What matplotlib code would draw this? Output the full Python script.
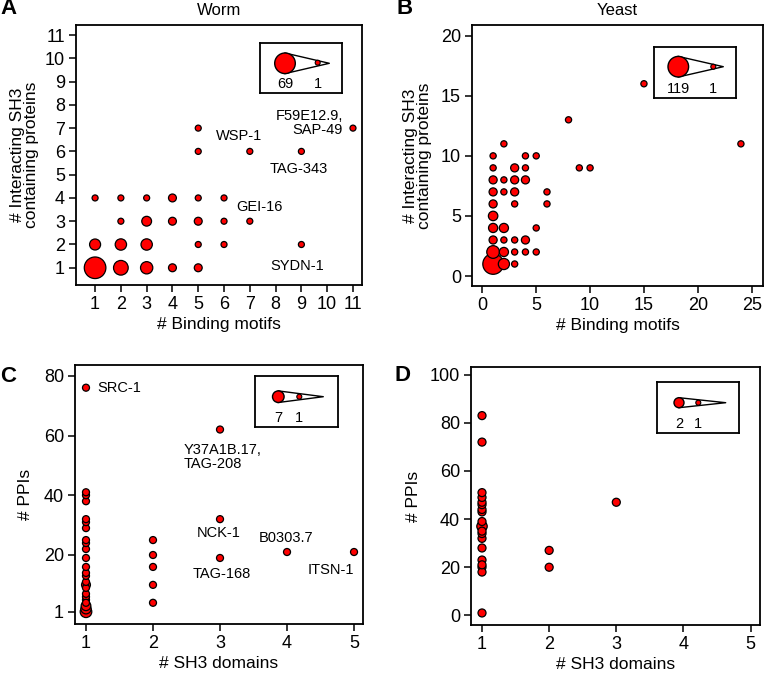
import numpy as np
import matplotlib
matplotlib.use("Agg")
import matplotlib.pyplot as plt
from matplotlib.patches import Circle

plt.rcParams['font.family'] = ['Liberation Sans', 'DejaVu Sans']

# ---- data -----------------------------------------------------------------
# A: worm, binding motifs vs interacting SH3 proteins (count = bubble size)
worm_motifs = [1, 2, 3, 4, 5,  1, 2, 3, 5, 6, 9,  2, 3, 4, 5, 6, 7,
               1, 2, 3, 4, 5, 6,  5, 7, 9,  5, 11]
worm_sh3 = [1, 1, 1, 1, 1,  2, 2, 2, 2, 2, 2,  3, 3, 3, 3, 3, 3,
            4, 4, 4, 4, 4, 4,  6, 6, 6,  7, 7]
worm_count = [69, 22, 12, 2, 2,  8, 9, 9, 1, 1, 1,  1, 5, 2, 2, 1, 1,
              1, 1, 1, 2, 1, 1,  1, 1, 1,  1, 1]

# B: yeast
yeast_motifs = [1, 2, 3,  1, 2, 3, 4, 5,  1, 2, 3, 4,  1, 2, 5,  1,
                1, 3, 6,  1, 2, 3, 6,  1, 2, 3, 4,  1, 3, 4,  1, 4, 5,
                2, 9, 10, 8, 15, 24]
yeast_sh3 = [1, 1, 1,  2, 2, 2, 2, 2,  3, 3, 3, 3,  4, 4, 4,  5,
             6, 6, 6,  7, 7, 7, 7,  8, 8, 8, 8,  9, 9, 9,  10, 10, 10,
             11, 9, 9, 13, 16, 11]
yeast_count = [119, 15, 1,  25, 6, 1, 1, 1,  3, 1, 1, 3,  6, 6, 1,  7,
               3, 1, 1,  3, 1, 3, 1,  3, 1, 3, 3,  1, 3, 1,  1, 1, 1,
               1, 1, 1, 1, 1, 1]

# C: worm, SH3 domains vs PPIs
worm_domains = [1] * 24 + [2, 2, 2, 2, 2, 3, 3, 3, 4, 5]
worm_ppis = [1, 2, 3, 4, 5, 6, 7, 9, 10, 11, 13, 14, 16, 19, 22, 24, 25,
             29, 31, 32, 38, 40, 41, 76,
             4, 10, 16, 20, 25, 19, 32, 62, 21, 21]
worm_ppi_count = [7, 4, 3, 1, 1, 1, 1, 1, 2, 1, 1, 1, 1, 1, 1, 1, 1,
                  1, 1, 1, 1, 1, 1, 1,
                  1, 1, 1, 1, 1, 1, 1, 1, 1, 1]

# D: yeast, SH3 domains vs PPIs
yeast_domains = [1] * 19 + [2, 2, 3]
yeast_ppis = [1, 18, 20, 21, 23, 28, 32, 34, 35, 37, 43, 44, 46, 47, 49, 51,
              72, 83, 39,
              20, 27, 47]
yeast_ppi_count = [1, 1, 1, 1, 1, 1, 1, 1, 1, 2, 1, 1, 1, 1, 1, 1,
                   1, 1, 1,
                   1, 1, 1]

W, H = 767, 676
TICK = 13
LAB = 12.5
NOTE = 10.5
fig = plt.figure(figsize=(W / 100, H / 100), dpi=100)


def box(x0, y0, x1, y1):
    # pixel box -> figure fraction rect
    return [x0 / W, 1 - y1 / H, (x1 - x0) / W, (y1 - y0) / H]


def radius(c, rmin, rmax, cmax):
    c = np.asarray(c, dtype=float)
    return rmin + (rmax - rmin) * np.sqrt((c - 1) / (cmax - 1))


def bubbles(ax, x, y, c, rmin, rmax, cmax):
    r = radius(c, rmin, rmax, cmax)
    s = (2 * r * 0.72) ** 2
    order = np.argsort(-r)
    ax.scatter(np.asarray(x)[order], np.asarray(y)[order], s=s[order],
               c='#ff0000', edgecolors='black', linewidths=0.9, zorder=3,
               clip_on=False)


def style(ax):
    for sp in ax.spines.values():
        sp.set_linewidth(1.3)
    ax.tick_params(direction='out', length=5, width=1.1, labelsize=TICK, pad=3)


def size_key(x0, y0, x1, y1, big, small, tip, labels):
    # hand drawn size legend: big circle, cone, small circle
    k = fig.add_axes(box(x0, y0, x1, y1))
    k.set_xlim(x0, x1)
    k.set_ylim(y1, y0)
    k.set_xticks([])
    k.set_yticks([])
    for sp in k.spines.values():
        sp.set_linewidth(1.3)
    (bx, by, br), (sx, sy, sr) = big, small
    k.plot([bx, tip, bx], [by - br, by, by + br], color='black', lw=1.0)
    k.add_patch(Circle((bx, by), br, fc='#ff0000', ec='black', lw=1.0, zorder=3))
    k.add_patch(Circle((sx, sy), sr, fc='#ff0000', ec='black', lw=0.8, zorder=3))
    k.text(bx, y1 - 5, labels[0], ha='center', va='baseline', fontsize=10.5)
    k.text(sx, y1 - 5, labels[1], ha='center', va='baseline', fontsize=10.5)


# ---- A ------------------------------------------------------------------
axA = fig.add_axes(box(76, 25, 362, 285))
bubbles(axA, worm_motifs, worm_sh3, worm_count, 3.0, 10.8, 69)
axA.set_xlim(0.26, 11.35)
axA.set_ylim(0.26, 11.43)
axA.set_xticks(range(1, 12))
axA.set_yticks(range(1, 12))
style(axA)
axA.set_xlabel('# Binding motifs', fontsize=LAB, labelpad=3)
axA.set_ylabel('# Interacting SH3\ncontaining proteins', fontsize=LAB,
               labelpad=4, linespacing=0.95)
axA.set_title('Worm', fontsize=12, pad=7)
for txt, x, y, ha in [('WSP-1', 6.6, 6.65, 'center'),
                      ('TAG-343', 8.9, 5.23, 'center'),
                      ('F59E12.9,\nSAP-49', 10.6, 7.2, 'right'),
                      ('GEI-16', 7.36, 3.62, 'center'),
                      ('SYDN-1', 8.85, 1.09, 'center')]:
    axA.text(x, y, txt, ha=ha, va='center', fontsize=NOTE, linespacing=1.0)
size_key(260, 42.7, 341.7, 92.7, (285, 63.3, 10.3), (317.7, 62.7, 2.5), 329.3, ('69', '1'))

# ---- B ------------------------------------------------------------------
axB = fig.add_axes(box(472, 25, 763, 286))
bubbles(axB, yeast_motifs, yeast_sh3, yeast_count, 3.1, 10.3, 119)
axB.set_xlim(-0.96, 26.05)
axB.set_ylim(-0.83, 20.89)
axB.set_xticks(range(0, 26, 5))
axB.set_yticks(range(0, 21, 5))
style(axB)
axB.set_xlabel('# Binding motifs', fontsize=LAB, labelpad=3)
axB.set_ylabel('# Interacting SH3\ncontaining proteins', fontsize=LAB,
               labelpad=6, linespacing=0.95)
axB.set_title('Yeast', fontsize=12, pad=7)
size_key(654, 46.7, 735.7, 98.3, (678.3, 66.7, 10.3), (713.3, 66.7, 2.5), 723.3, ('119', '1'))

# ---- C ------------------------------------------------------------------
axC = fig.add_axes(box(75, 365, 363, 624))
bubbles(axC, worm_domains, worm_ppis, worm_ppi_count, 3.5, 5.8, 7)
axC.set_xlim(0.836, 5.134)
axC.set_ylim(-3.1, 83.6)
axC.set_xticks(range(1, 6))
axC.set_yticks([1, 20, 40, 60, 80])
style(axC)
axC.set_xlabel('# SH3 domains', fontsize=LAB, labelpad=3)
axC.set_ylabel('# PPIs', fontsize=LAB, labelpad=8)
for txt, x, y, ha in [('SRC-1', 1.17, 76, 'left'),
                      ('Y37A1B.17,\nTAG-208', 2.46, 52.8, 'left'),
                      ('NCK-1', 2.98, 27.3, 'center'),
                      ('TAG-168', 3.02, 13.6, 'center'),
                      ('B0303.7', 3.99, 25.8, 'center'),
                      ('ITSN-1', 4.66, 15.0, 'center')]:
    axC.text(x, y, txt, ha=ha, va='center', fontsize=NOTE, linespacing=1.0)
size_key(255.3, 376, 337.7, 427.3, (278.3, 396.7, 5.8), (299.3, 396.7, 2.5), 323.3, ('7', '1'))

# ---- D ------------------------------------------------------------------
axD = fig.add_axes(box(471, 367, 760, 625))
bubbles(axD, yeast_domains, yeast_ppis, yeast_ppi_count, 4.0, 5.2, 2)
axD.set_xlim(0.836, 5.14)
axD.set_ylim(-4.0, 103.2)
axD.set_xticks(range(1, 6))
axD.set_yticks(range(0, 101, 20))
style(axD)
axD.set_xlabel('# SH3 domains', fontsize=LAB, labelpad=3)
axD.set_ylabel('# PPIs', fontsize=LAB, labelpad=6)
size_key(656.7, 382.3, 739.3, 433.3, (679, 402.7, 5.0), (698.3, 402.7, 2.5), 725.7, ('2', '1'))

# panel letters
for letter, x, y in [('A', 0, 9), ('B', 396, 9), ('C', 0, 377), ('D', 394, 376)]:
    fig.text(x / W, 1 - y / H, letter, fontsize=16, fontweight='bold',
             ha='left', va='center')

fig.savefig('out.png', dpi=100)
